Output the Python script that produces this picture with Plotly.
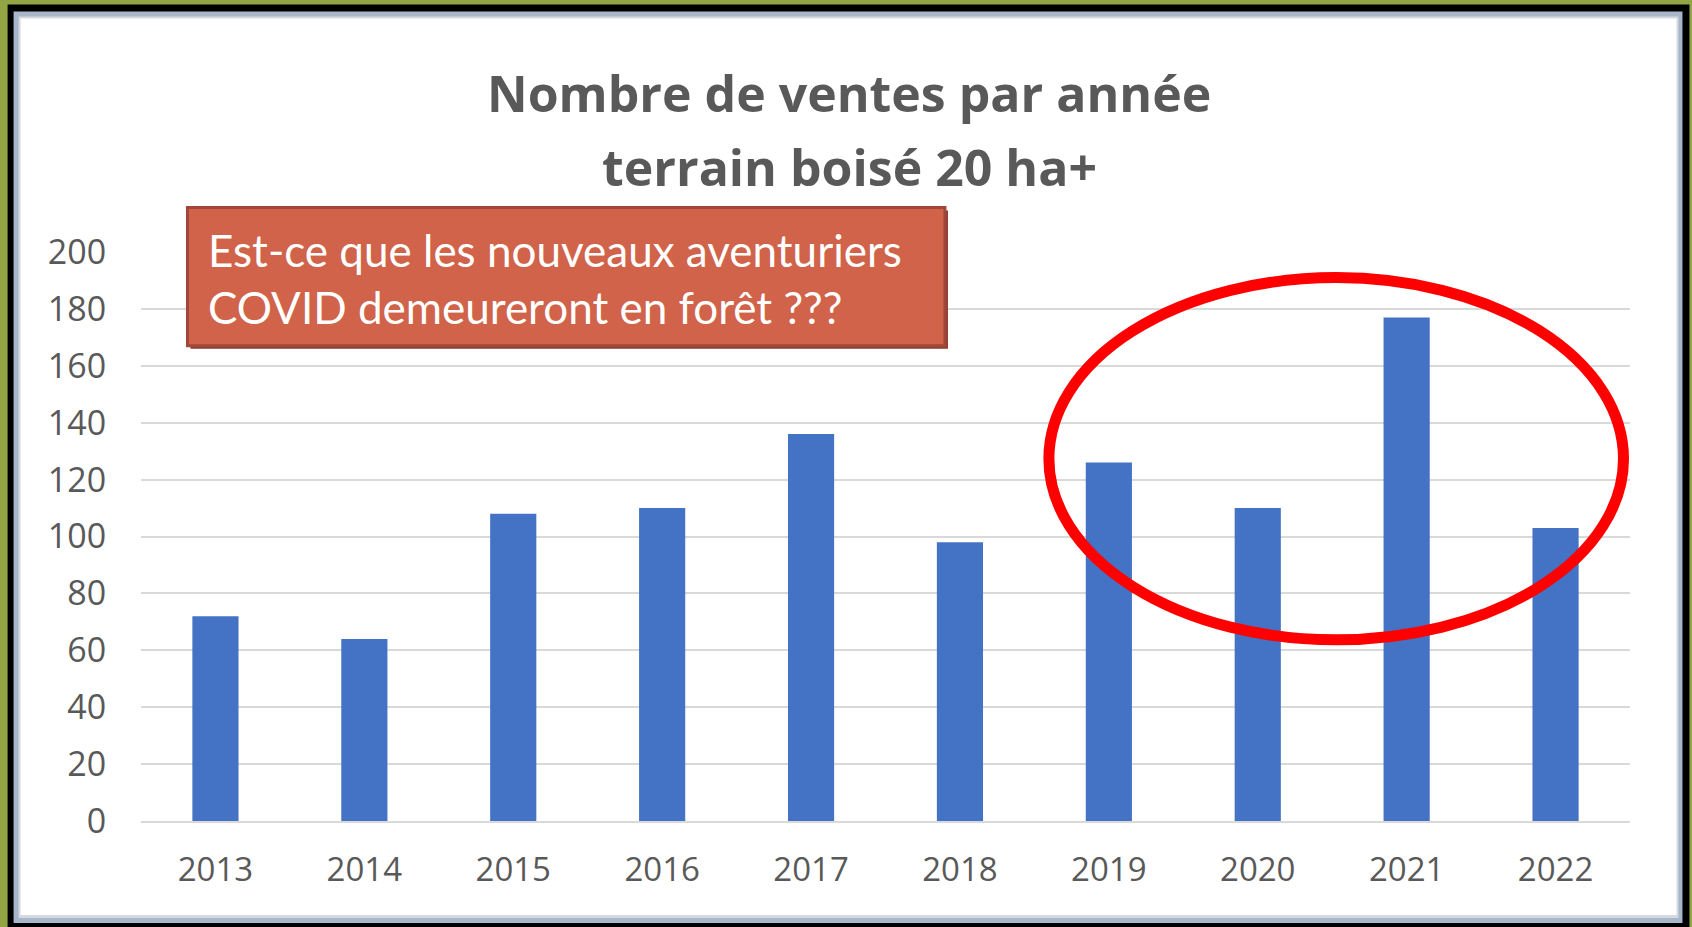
import plotly.graph_objects as go

# ---- data ----
years = ["2013", "2014", "2015", "2016", "2017", "2018", "2019", "2020", "2021", "2022"]
sales = [72, 64, 108, 110, 136, 98, 126, 110, 177, 103]
y_ticks = [0, 20, 40, 60, 80, 100, 120, 140, 160, 180, 200]
title_lines = ["Nombre de ventes par année", "terrain boisé 20 ha+"]
callout = "Est-ce que les nouveaux aventuriers<br>COVID demeureront en forêt ???"

# ---- layout geometry (pixels) ----
W, H = 1692, 927
L, R, T, B = 140.5, 1630.5, 252.4, 821.0

def px(x):
    return (x - L) / (R - L)

def py(y):
    return (B - y) / (B - T)

fig = go.Figure(go.Bar(
    x=years, y=sales,
    marker=dict(color="#4472C4", line=dict(width=0)),
    width=0.31,
))

shapes = []
def rect(x0, y0, x1, y1, fill, line_color=None, lw=0, layer="below"):
    shapes.append(dict(type="rect", xref="paper", yref="paper",
                       x0=px(x0), x1=px(x1), y0=py(y1), y1=py(y0),
                       fillcolor=fill, layer=layer,
                       line=dict(color=line_color or fill, width=lw)))

# frame
rect(7, 5, 1690, 940, "#000000")
rect(13, 12, 1683, 923, "#A8B6CB")
rect(18, 17, 1679, 918, "#D6D9DE")
rect(20, 19, 1677, 915, "#FFFFFF")

# callout box (shadow + box)
rect(190, 211, 948, 349, "#8E3B2E", layer="above")
rect(187, 208, 945, 346, "#D0634A", "#A0473A", 3, layer="above")

# red ellipse
shapes.append(dict(type="circle", xref="paper", yref="paper",
                   x0=px(1049), x1=px(1624), y0=py(640), y1=py(278),
                   line=dict(color="#FF0000", width=11), layer="above"))

annotations = [
    dict(xref="paper", yref="paper", x=px(849), y=py(94), text=f"<b>{title_lines[0]}</b>",
         showarrow=False, xanchor="center", yanchor="middle",
         font=dict(family="Open Sans", size=50, color="#595959")),
    dict(xref="paper", yref="paper", x=px(849), y=py(167), text=f"<b>{title_lines[1]}</b>",
         showarrow=False, xanchor="center", yanchor="middle",
         font=dict(family="Open Sans", size=50, color="#595959")),
    dict(xref="paper", yref="paper", x=px(206), y=py(279), text=callout,
         showarrow=False, xanchor="left", yanchor="middle", align="left",
         font=dict(family="Lato", size=44, color="#FFFFFF")),
]

fig.update_layout(
    width=W, height=H,
    margin=dict(l=L, r=W - R, t=T, b=H - B, pad=0),
    paper_bgcolor="#93A444",
    plot_bgcolor="rgba(0,0,0,0)",
    showlegend=False,
    shapes=shapes,
    annotations=annotations,
    bargap=0.69,
)
fig.update_xaxes(
    type="category", showgrid=False, showline=True, linecolor="#D9D9D9", linewidth=2,
    ticks="outside", ticklen=18, tickcolor="rgba(0,0,0,0)",
    tickfont=dict(family="Open Sans", size=33, color="#595959"),
    range=[-0.5, 9.5],
)
fig.update_yaxes(
    range=[0, 200], tickvals=y_ticks, showgrid=True, gridcolor="#D9D9D9", gridwidth=2,
    zeroline=False, showline=False,
    ticks="outside", ticklen=27, tickcolor="rgba(0,0,0,0)",
    tickfont=dict(family="Open Sans", size=34, color="#595959"),
)

fig.write_html("out.html",
               config={"displayModeBar": False},
               post_script="document.body.style.margin='0';document.body.style.overflow='hidden';")
